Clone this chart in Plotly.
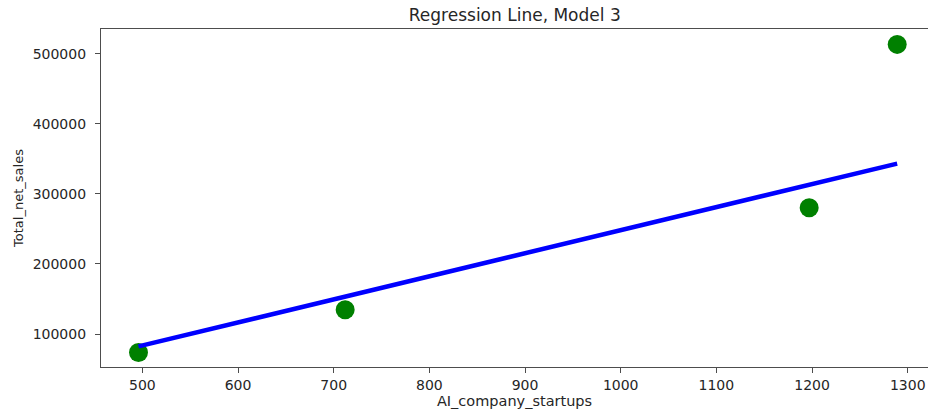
import plotly.graph_objects as go

# Data
startups = [496, 712, 1197, 1289]
net_sales = [73700, 134700, 280200, 513300]
line_x = [496, 712, 1197, 1289]
line_pred = [82300, 153300, 312900, 343200]

x_ticks = [500, 600, 700, 800, 900, 1000, 1100, 1200, 1300]
y_ticks = [100000, 200000, 300000, 400000, 500000]

font_family = "DejaVu Sans"
tick_color = "#262626"
spine_color = "#4d4d4d"

fig = go.Figure()
fig.add_trace(go.Scatter(
    x=startups, y=net_sales, mode="markers",
    marker=dict(color="#008000", size=19, line=dict(width=0)),
    showlegend=False, hoverinfo="skip"))
fig.add_trace(go.Scatter(
    x=line_x, y=line_pred, mode="lines",
    line=dict(color="#0000ff", width=4.5),
    showlegend=False, hoverinfo="skip"))

fig.update_layout(
    width=928, height=414,
    margin=dict(l=101, r=0, t=29, b=47),
    paper_bgcolor="white", plot_bgcolor="white",
    font=dict(family=font_family, size=14, color=tick_color),
    title=dict(text="Regression Line, Model 3", x=0.5547, xanchor="center",
               y=1 - 15.5 / 414, yanchor="middle",
               font=dict(family=font_family, size=17, color=tick_color)),
    xaxis=dict(
        range=[456.8, 1321.2], tickvals=x_ticks,
        ticktext=[str(v) for v in x_ticks],
        showgrid=False, zeroline=False,
        showline=True, linecolor=spine_color, linewidth=1.2, mirror=True,
        ticks="outside", ticklen=5, tickcolor=spine_color, tickwidth=1,
        tickfont=dict(size=14, color=tick_color),
        title=dict(text="AI_company_startups", standoff=3,
                   font=dict(size=14.5, color=tick_color)),
    ),
    yaxis=dict(
        range=[52900, 535250], tickvals=y_ticks,
        ticktext=[str(v) for v in y_ticks],
        showgrid=False, zeroline=False,
        showline=True, linecolor=spine_color, linewidth=1.2, mirror=False,
        ticks="outside", ticklen=5, tickcolor=spine_color, tickwidth=1,
        ticklabelstandoff=6,
        tickfont=dict(size=14, color=tick_color),
        title=dict(text="Total_net_sales", standoff=6,
                   font=dict(size=13, color=tick_color)),
    ),
)

fig.write_html("out.html")
